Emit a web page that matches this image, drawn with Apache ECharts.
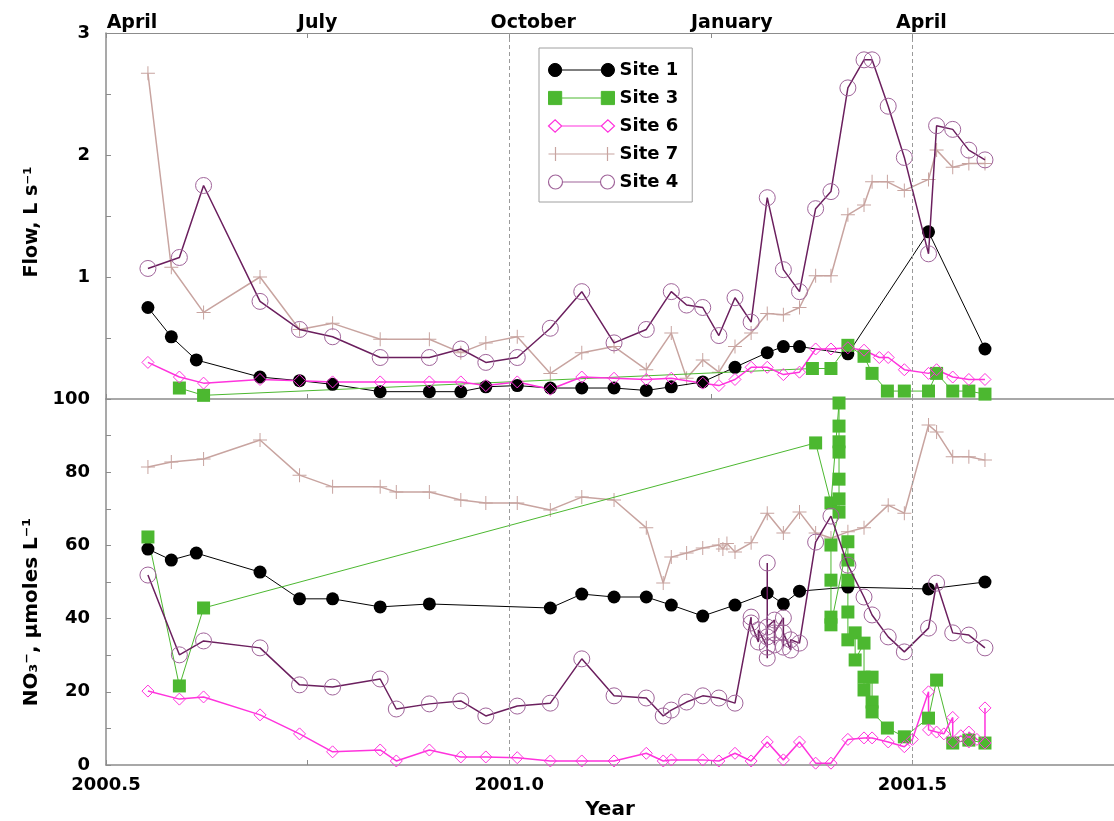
<!DOCTYPE html>
<html><head><meta charset="utf-8">
<script src="https://cdn.jsdelivr.net/npm/echarts/dist/echarts.min.js"></script>
<style>html,body{margin:0;padding:0;background:#fff}#c{width:1114px;height:821px}</style>
</head><body><div id="c"></div>
<script>
// ---------------- DATA ----------------
const monthLabels = ['April', 'July', 'October', 'January', 'April'];
const seriesNames = ['Site 1', 'Site 3', 'Site 6', 'Site 7', 'Site 4'];

// Flow (L s-1), top panel
const flowSite1Years = [2000.552, 2000.581, 2000.612, 2000.691, 2000.740, 2000.781, 2000.840, 2000.901, 2000.940, 2000.971, 2001.010, 2001.051, 2001.090, 2001.130, 2001.170, 2001.201, 2001.240, 2001.280, 2001.320, 2001.340, 2001.360, 2001.420, 2001.520, 2001.590];
const flowSite1 = [0.75, 0.51, 0.32, 0.18, 0.15, 0.12, 0.06, 0.06, 0.06, 0.10, 0.11, 0.09, 0.09, 0.09, 0.07, 0.10, 0.14, 0.26, 0.38, 0.43, 0.43, 0.37, 1.37, 0.41];

const flowSite3Years = [2000.591, 2000.621, 2001.376, 2001.399, 2001.420, 2001.440, 2001.450, 2001.469, 2001.490, 2001.520, 2001.530, 2001.550, 2001.570, 2001.590];
const flowSite3 = [0.09, 0.03, 0.25, 0.25, 0.44, 0.35, 0.21, 0.065, 0.065, 0.065, 0.21, 0.065, 0.065, 0.04];

const flowSite6Years = [2000.552, 2000.591, 2000.621, 2000.691, 2000.740, 2000.781, 2000.840, 2000.901, 2000.940, 2000.971, 2001.010, 2001.051, 2001.090, 2001.130, 2001.170, 2001.201, 2001.240, 2001.260, 2001.280, 2001.300, 2001.320, 2001.340, 2001.360, 2001.380, 2001.399, 2001.420, 2001.440, 2001.459, 2001.470, 2001.490, 2001.520, 2001.530, 2001.550, 2001.570, 2001.590];
const flowSite6 = [0.30, 0.18, 0.13, 0.16, 0.15, 0.14, 0.14, 0.14, 0.14, 0.11, 0.14, 0.08, 0.18, 0.17, 0.16, 0.17, 0.13, 0.11, 0.16, 0.26, 0.26, 0.20, 0.22, 0.41, 0.41, 0.42, 0.40, 0.34, 0.34, 0.24, 0.21, 0.24, 0.18, 0.16, 0.16];

const flowSite7Years = [2000.552, 2000.581, 2000.621, 2000.691, 2000.740, 2000.781, 2000.840, 2000.901, 2000.940, 2000.971, 2001.010, 2001.051, 2001.090, 2001.130, 2001.170, 2001.201, 2001.220, 2001.240, 2001.260, 2001.280, 2001.300, 2001.320, 2001.340, 2001.360, 2001.380, 2001.399, 2001.420, 2001.440, 2001.450, 2001.469, 2001.490, 2001.520, 2001.530, 2001.550, 2001.570, 2001.590];
const flowSite7 = [2.67, 1.08, 0.71, 1.00, 0.57, 0.62, 0.49, 0.49, 0.38, 0.46, 0.51, 0.21, 0.38, 0.43, 0.24, 0.54, 0.17, 0.32, 0.22, 0.43, 0.54, 0.70, 0.69, 0.75, 1.01, 1.01, 1.51, 1.59, 1.78, 1.78, 1.71, 1.80, 2.04, 1.90, 1.93, 1.93];

const flowSite4Years = [2000.552, 2000.591, 2000.621, 2000.691, 2000.740, 2000.781, 2000.840, 2000.901, 2000.940, 2000.971, 2001.010, 2001.051, 2001.090, 2001.130, 2001.170, 2001.201, 2001.220, 2001.240, 2001.260, 2001.280, 2001.300, 2001.320, 2001.340, 2001.360, 2001.380, 2001.399, 2001.420, 2001.440, 2001.450, 2001.470, 2001.490, 2001.520, 2001.530, 2001.550, 2001.570, 2001.590];
const flowSite4 = [1.07, 1.16, 1.75, 0.80, 0.57, 0.51, 0.34, 0.34, 0.41, 0.30, 0.34, 0.58, 0.88, 0.46, 0.57, 0.88, 0.77, 0.75, 0.52, 0.83, 0.63, 1.65, 1.06, 0.88, 1.56, 1.70, 2.55, 2.78, 2.78, 2.40, 1.98, 1.19, 2.24, 2.21, 2.04, 1.96];

// NO3- (umoles L-1), bottom panel
const no3Site1Years = [2000.552, 2000.581, 2000.612, 2000.691, 2000.740, 2000.781, 2000.840, 2000.901, 2001.051, 2001.090, 2001.130, 2001.170, 2001.201, 2001.240, 2001.280, 2001.320, 2001.340, 2001.360, 2001.420, 2001.520, 2001.590];
const no3Site1 = [59.0, 56.0, 57.9, 52.7, 45.4, 45.4, 43.2, 44.0, 42.9, 46.7, 45.9, 45.9, 43.7, 40.7, 43.7, 47.0, 44.0, 47.5, 48.6, 48.1, 50.0];

const no3Site3Years = [2000.552, 2000.591, 2000.621, 2001.380, 2001.399, 2001.409, 2001.409, 2001.409, 2001.409, 2001.409, 2001.409, 2001.409, 2001.399, 2001.399, 2001.399, 2001.399, 2001.420, 2001.420, 2001.420, 2001.420, 2001.420, 2001.429, 2001.429, 2001.440, 2001.440, 2001.440, 2001.450, 2001.450, 2001.450, 2001.469, 2001.490, 2001.520, 2001.530, 2001.550, 2001.570, 2001.590];
const no3Site3 = [62.3, 21.6, 42.9, 88.0, 71.6, 98.9, 92.6, 88.3, 85.5, 78.1, 72.7, 69.1, 60.1, 50.5, 40.4, 38.3, 61.0, 56.0, 50.5, 41.8, 34.2, 36.1, 28.7, 33.3, 24.0, 20.5, 24.0, 17.2, 14.5, 10.1, 7.7, 12.8, 23.2, 6.0, 6.8, 6.0];

const no3Site6Years = [2000.552, 2000.591, 2000.621, 2000.691, 2000.740, 2000.781, 2000.840, 2000.860, 2000.901, 2000.940, 2000.971, 2001.010, 2001.051, 2001.090, 2001.130, 2001.170, 2001.191, 2001.201, 2001.240, 2001.260, 2001.280, 2001.300, 2001.320, 2001.340, 2001.360, 2001.380, 2001.399, 2001.420, 2001.440, 2001.450, 2001.470, 2001.490, 2001.500, 2001.520, 2001.520, 2001.530, 2001.539, 2001.550, 2001.550, 2001.560, 2001.570, 2001.570, 2001.580, 2001.590, 2001.590];
const no3Site6 = [20.2, 18.0, 18.6, 13.7, 8.5, 3.6, 4.1, 1.1, 4.1, 2.2, 2.2, 2.0, 1.1, 1.1, 1.1, 3.2, 1.1, 1.4, 1.4, 1.1, 3.2, 1.1, 6.3, 1.4, 6.3, 0.5, 0.5, 7.0, 7.4, 7.4, 6.3, 5.0, 7.0, 20.0, 9.6, 9.0, 8.5, 13.0, 6.3, 8.0, 6.3, 9.0, 7.0, 6.0, 15.6];

const no3Site7Years = [2000.552, 2000.581, 2000.621, 2000.691, 2000.740, 2000.781, 2000.840, 2000.860, 2000.901, 2000.940, 2000.971, 2001.010, 2001.051, 2001.090, 2001.130, 2001.170, 2001.191, 2001.201, 2001.220, 2001.240, 2001.260, 2001.265, 2001.270, 2001.280, 2001.300, 2001.320, 2001.340, 2001.360, 2001.380, 2001.399, 2001.420, 2001.440, 2001.470, 2001.490, 2001.520, 2001.530, 2001.550, 2001.570, 2001.590];
const no3Site7 = [81.4, 82.8, 83.6, 88.8, 79.2, 76.0, 76.0, 74.6, 74.6, 72.4, 71.6, 71.6, 69.7, 73.2, 72.4, 64.8, 49.7, 56.8, 57.9, 59.3, 60.1, 59.0, 60.5, 58.2, 60.7, 68.8, 63.4, 69.1, 63.4, 62.0, 63.7, 64.8, 71.0, 68.8, 92.9, 91.0, 84.2, 84.2, 83.3];

const no3Site4Years = [2000.552, 2000.591, 2000.621, 2000.691, 2000.740, 2000.781, 2000.840, 2000.860, 2000.901, 2000.940, 2000.971, 2001.010, 2001.051, 2001.090, 2001.130, 2001.170, 2001.191, 2001.201, 2001.220, 2001.240, 2001.260, 2001.280, 2001.300, 2001.300, 2001.309, 2001.309, 2001.320, 2001.320, 2001.320, 2001.320, 2001.320, 2001.329, 2001.329, 2001.329, 2001.340, 2001.340, 2001.340, 2001.349, 2001.349, 2001.360, 2001.380, 2001.399, 2001.420, 2001.440, 2001.450, 2001.470, 2001.490, 2001.520, 2001.530, 2001.550, 2001.570, 2001.590];
const no3Site4 = [51.9, 30.1, 33.9, 32.0, 21.9, 21.3, 23.5, 15.3, 16.7, 17.5, 13.4, 16.1, 16.9, 29.0, 18.9, 18.3, 13.4, 15.0, 17.2, 18.9, 18.3, 16.9, 40.4, 38.8, 33.6, 36.9, 32.2, 55.2, 29.2, 35.0, 37.7, 39.6, 32.8, 36.1, 40.2, 32.2, 36.1, 31.4, 34.2, 33.3, 60.9, 68.0, 54.6, 45.9, 41.0, 35.0, 30.9, 37.4, 49.7, 36.1, 35.5, 32.0];

const referenceYears = [2001.0, 2001.5];

// ---------------- STYLE ----------------
const FONT = '"DejaVu Sans", "Liberation Sans", Arial, sans-serif';
const AXIS_COLOR = '#8c8c8c';
const C1 = '#000000', C3 = '#4cb830', C6 = '#ff33dd', C7 = '#c8a4a0', C4LINE = '#6b1f5e', C4MARK = '#a0649a';
const PLUS = 'path://M6.5,0H7.5V6.5H14V7.5H7.5V14H6.5V7.5H0V6.5H6.5Z';

const ICON_CIRCLE = 'path://M0.5,7a6.5,6.5 0 1,0 13,0a6.5,6.5 0 1,0 -13,0Z M13.5,7L52.5,7 M52.5,7a6.5,6.5 0 1,0 13,0a6.5,6.5 0 1,0 -13,0Z';
const ICON_SQUARE = 'path://M0.5,0.5H13.5V13.5H0.5Z M13.5,7L52.5,7 M52.5,0.5H65.5V13.5H52.5Z';
const ICON_DIAMOND = 'path://M0.5,7L7,1L13.5,7L7,13Z M13.5,7L52.5,7 M52.5,7L59,1L65.5,7L59,13Z';
const ICON_PLUS = 'path://M7,0L7,14 M0,7L66,7 M59,0L59,14';
const ICON_OCIRCLE = 'path://M0,7a7,7 0 1,0 14,0a7,7 0 1,0 -14,0Z M14,7L52,7 M52,7a7,7 0 1,0 14,0a7,7 0 1,0 -14,0Z';

function zip(xs, ys) { return xs.map((x, i) => [x, ys[i]]); }

const markLineCfg = {
  silent: true, symbol: ['none', 'none'], label: { show: false },
  lineStyle: { type: [4, 3], color: '#9a9a9a', width: 1 },
  data: referenceYears.map(y => ({ xAxis: y }))
};

function makeSeries(panel, years, values) {
  const xi = panel === 0 ? 0 : 2, yi = panel;
  return [
    { name: 'Site 1', type: 'line', xAxisIndex: xi, yAxisIndex: yi, data: zip(years[0], values[0]),
      symbol: 'circle', symbolSize: 13, itemStyle: { color: C1, borderWidth: 0 },
      lineStyle: { color: C1, width: 1 }, markLine: markLineCfg, z: 3 },
    { name: 'Site 3', type: 'line', xAxisIndex: xi, yAxisIndex: yi, data: zip(years[1], values[1]),
      symbol: 'rect', symbolSize: 13, itemStyle: { color: C3, borderWidth: 0 },
      lineStyle: { color: C3, width: 1 }, z: 3 },
    { name: 'Site 6', type: 'line', xAxisIndex: xi, yAxisIndex: yi, data: zip(years[2], values[2]),
      symbol: 'diamond', symbolSize: 12, itemStyle: { color: 'rgba(255,255,255,0)', borderColor: C6, borderWidth: 1 },
      lineStyle: { color: C6, width: 1.5 }, z: 3 },
    { name: 'Site 7', type: 'line', xAxisIndex: xi, yAxisIndex: yi, data: zip(years[3], values[3]),
      symbol: PLUS, symbolSize: 14, itemStyle: { color: C7, borderWidth: 0 },
      lineStyle: { color: C7, width: 1.5 }, z: 2 },
    { name: 'Site 4', type: 'line', xAxisIndex: xi, yAxisIndex: yi, data: zip(years[4], values[4]),
      symbol: 'circle', symbolSize: 16, itemStyle: { color: 'rgba(255,255,255,0)', borderColor: C4MARK, borderWidth: 1 },
      lineStyle: { color: C4LINE, width: 1.5 }, z: 4 }
  ];
}

const tickLabelStyle = { fontFamily: FONT, fontWeight: 'bold', fontSize: 18, color: '#000' };
const monthOffsets = [52, 20, 48, 42, 18];
const monthRich = {};
monthLabels.forEach((m, i) => {
  monthRich['m' + i] = { fontFamily: FONT, fontWeight: 'bold', fontSize: 19, color: '#000', padding: [0, 0, 0, monthOffsets[i]] };
});

const xBase = {
  type: 'value', min: 2000.5, max: 2001.75, interval: 0.25,
  axisLine: { show: true, lineStyle: { color: AXIS_COLOR, width: 1.5 } },
  axisTick: { show: true, inside: true, length: 5, lineStyle: { color: AXIS_COLOR } },
  splitLine: { show: false }
};

const option = {
  animation: false,
  backgroundColor: '#fff',
  textStyle: { fontFamily: FONT },
  grid: [
    { left: 106, right: -11, top: 33, height: 366 },
    { left: 106, right: -11, top: 399, height: 366 }
  ],
  xAxis: [
    Object.assign({}, xBase, { gridIndex: 0, position: 'bottom', axisLabel: { show: false } }),
    Object.assign({}, xBase, { gridIndex: 0, position: 'top',
      axisLine: { show: true, lineStyle: { color: AXIS_COLOR, width: 1 } },
      axisLabel: { show: true, margin: 0, showMinLabel: true, showMaxLabel: false,
        formatter: v => { const i = Math.round((v - 2000.5) / 0.25); return (i >= 0 && i < monthLabels.length) ? '{m' + i + '|' + monthLabels[i] + '}' : ''; },
        rich: monthRich } }),
    Object.assign({}, xBase, { gridIndex: 1, position: 'bottom',
      name: 'Year', nameLocation: 'middle', nameGap: 35,
      nameTextStyle: { fontFamily: FONT, fontWeight: 'bold', fontSize: 20, color: '#000' },
      axisLabel: Object.assign({ margin: 11, showMinLabel: true, showMaxLabel: false,
        formatter: v => Math.abs(v * 2 - Math.round(v * 2)) < 1e-6 ? v.toFixed(1) : '' }, tickLabelStyle) })
  ],
  yAxis: [
    { type: 'value', gridIndex: 0, min: 0, max: 3, interval: 0.5,
      name: 'Flow, L s⁻¹', nameLocation: 'middle', nameGap: 64,
      nameTextStyle: { fontFamily: FONT, fontWeight: 'bold', fontSize: 19, color: '#000', padding: [0, 12, 0, 0] },
      axisLine: { show: true, lineStyle: { color: AXIS_COLOR, width: 1.5 } },
      axisTick: { show: true, inside: true, length: 5, lineStyle: { color: AXIS_COLOR } },
      splitLine: { show: false },
      axisLabel: Object.assign({ margin: 16, showMaxLabel: true,
        formatter: v => (v > 0 && Math.abs(v - Math.round(v)) < 1e-6) ? String(Math.round(v)) : '' }, tickLabelStyle) },
    { type: 'value', gridIndex: 1, min: 0, max: 100, interval: 10,
      name: 'NO₃⁻, µmoles L⁻¹', nameLocation: 'middle', nameGap: 64,
      nameTextStyle: { fontFamily: FONT, fontWeight: 'bold', fontSize: 20, color: '#000', padding: [0, 60, 0, 0] },
      axisLine: { show: true, lineStyle: { color: AXIS_COLOR, width: 1.5 } },
      axisTick: { show: true, inside: true, length: 5, lineStyle: { color: AXIS_COLOR } },
      splitLine: { show: false },
      axisLabel: Object.assign({ margin: 16, showMinLabel: true, showMaxLabel: true,
        formatter: v => (Math.round(v) % 20 === 0) ? String(Math.round(v)) : '' }, tickLabelStyle) }
  ],
  legend: {
    orient: 'vertical', left: 539, top: 48, padding: [12, 14, 10, 7],
    itemWidth: 66, itemHeight: 14, itemGap: 8, selectedMode: false,
    borderColor: '#a0a0a0', borderWidth: 1, backgroundColor: '#fff',
    textStyle: { fontFamily: FONT, fontWeight: 'bold', fontSize: 18, color: '#000', lineHeight: 20 },
    data: [
      { name: 'Site 1', icon: ICON_CIRCLE, itemStyle: { color: C1, borderColor: C1, borderWidth: 1 } },
      { name: 'Site 3', icon: ICON_SQUARE, itemStyle: { color: C3, borderColor: C3, borderWidth: 1 } },
      { name: 'Site 6', icon: ICON_DIAMOND, itemStyle: { color: 'none', borderColor: C6, borderWidth: 1.2 } },
      { name: 'Site 7', icon: ICON_PLUS, itemStyle: { color: 'none', borderColor: C7, borderWidth: 1.2 } },
      { name: 'Site 4', icon: ICON_OCIRCLE, itemStyle: { color: 'none', borderColor: C4MARK, borderWidth: 1.2 } }
    ]
  },
  series: [].concat(
    makeSeries(0, [flowSite1Years, flowSite3Years, flowSite6Years, flowSite7Years, flowSite4Years],
                  [flowSite1, flowSite3, flowSite6, flowSite7, flowSite4]),
    makeSeries(1, [no3Site1Years, no3Site3Years, no3Site6Years, no3Site7Years, no3Site4Years],
                  [no3Site1, no3Site3, no3Site6, no3Site7, no3Site4])
  )
};

const chart = echarts.init(document.getElementById('c'), null, { renderer: 'canvas' });
chart.setOption(option);
</script>
</body></html>
